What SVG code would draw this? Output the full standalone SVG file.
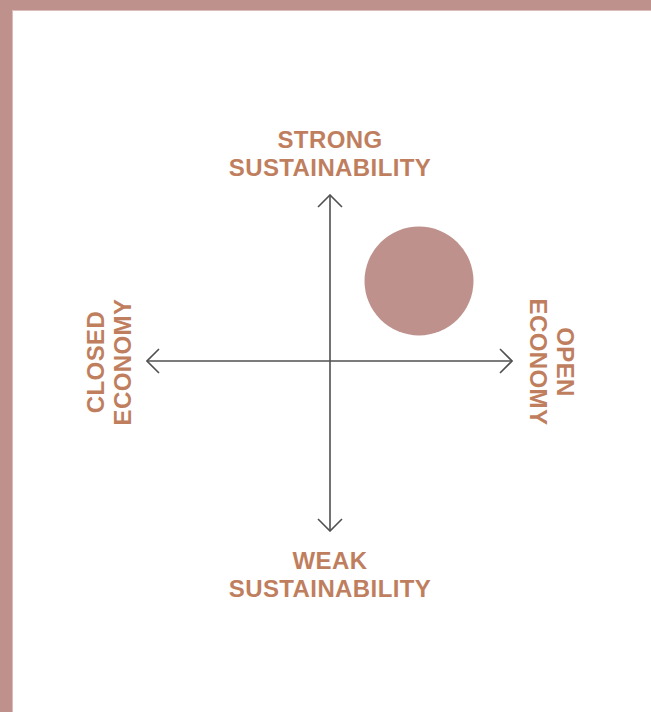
<svg xmlns="http://www.w3.org/2000/svg" width="651" height="712" viewBox="0 0 651 712">
  <defs>
    <style>
      .lbl { font-family: "Liberation Sans", Arial, sans-serif; font-weight: bold; font-size: 24px; letter-spacing: 0.4px; fill: #bf7f5f; text-anchor: middle; }
      .axis { stroke: #505050; stroke-width: 1.6; fill: none; }
      .frame { fill: #bf918c; }
      .frameedge { fill: #dcbcb8; }
    </style>
    <marker id="chev" viewBox="0 0 14 26" refX="13" refY="13" markerUnits="userSpaceOnUse" markerWidth="14" markerHeight="26" orient="auto-start-reverse">
      <path d="M1,1 L13,13 L1,25" fill="none" stroke="#505050" stroke-width="1.6"/>
    </marker>
  </defs>
  <rect width="651" height="712" fill="#ffffff"/>
  <g id="frame">
    <rect class="frameedge" x="0" y="0" width="651" height="11"/>
    <rect class="frameedge" x="0" y="0" width="13" height="712"/>
    <rect class="frame" x="0" y="0" width="651" height="10"/>
    <rect class="frame" x="0" y="0" width="12" height="712"/>
  </g>
  <g id="connectors">
    <line class="axis" x1="330" y1="531" x2="330" y2="195" marker-start="url(#chev)" marker-end="url(#chev)"/>
    <line class="axis" x1="147" y1="361" x2="512" y2="361" marker-start="url(#chev)" marker-end="url(#chev)"/>
  </g>
  <g id="strong">
    <text class="lbl" x="330" y="148">STRONG</text>
    <text class="lbl" x="330" y="176">SUSTAINABILITY</text>
  </g>
  <g id="weak">
    <text class="lbl" x="330" y="569">WEAK</text>
    <text class="lbl" x="330" y="597">SUSTAINABILITY</text>
  </g>
  <g id="closed" transform="translate(104,362) rotate(-90)">
    <text class="lbl" x="0" y="0">CLOSED</text>
    <text class="lbl" x="0" y="27">ECONOMY</text>
  </g>
  <g id="open" transform="translate(557,362) rotate(90)">
    <text class="lbl" x="0" y="0">OPEN</text>
    <text class="lbl" x="0" y="27">ECONOMY</text>
  </g>
  <g id="position">
    <circle cx="419" cy="281" r="54.5" fill="#bf918c"/>
  </g>
</svg>
